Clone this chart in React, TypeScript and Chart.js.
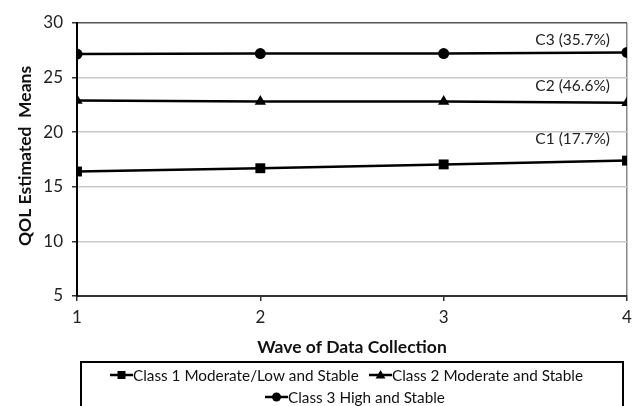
import React, { useEffect, useRef } from "react";
import { Chart, registerables } from "chart.js";

Chart.register(...registerables);

const waves = [1, 2, 3, 4];
const class1 = [16.4, 16.7, 17.05, 17.4];
const class2 = [22.9, 22.8, 22.8, 22.7];
const class3 = [27.15, 27.2, 27.2, 27.3];
const seriesLabels = [
  "Class 1 Moderate/Low and Stable",
  "Class 2 Moderate and Stable",
  "Class 3 High and Stable",
];
const annotations = ["C1 (17.7%)", "C2 (46.6%)", "C3 (35.7%)"];
const annotationValues = [19.4, 24.2, 28.4];
const yTicks = [5, 10, 15, 20, 25, 30];
const xTitle = "Wave of Data Collection";
const yTitle = "QOL Estimated  Means";

const FONT = "Lato, 'Liberation Sans', sans-serif";

function drawMarker(ctx: CanvasRenderingContext2D, style: string, x: number, y: number, r: number) {
  ctx.beginPath();
  if (style === "rect") {
    const s = r;
    ctx.rect(x - s, y - s, 2 * s, 2 * s);
  } else if (style === "triangle") {
    ctx.moveTo(x, y - r * 1.1);
    ctx.lineTo(x + r * 1.1, y + r * 0.75);
    ctx.lineTo(x - r * 1.1, y + r * 0.75);
    ctx.closePath();
  } else {
    ctx.arc(x, y, r, 0, Math.PI * 2);
  }
  ctx.fill();
}

const overlayPlugin = {
  id: "overlay",
  afterDraw(chart: any) {
    const ctx: CanvasRenderingContext2D = chart.ctx;
    const { chartArea } = chart;
    const xs = chart.scales.x;
    const ys = chart.scales.y;
    ctx.save();
    // annotations
    ctx.fillStyle = "#222";
    ctx.font = `15.5px ${FONT}`;
    ctx.textAlign = "right";
    ctx.textBaseline = "middle";
    annotations.forEach((t, i) => {
      ctx.fillText(t, xs.getPixelForValue(4) - 17, ys.getPixelForValue(annotationValues[i]));
    });
    // x title
    ctx.font = `bold 17.5px ${FONT}`;
    ctx.textAlign = "center";
    ctx.fillStyle = "#111";
    ctx.fillText(xTitle, (chartArea.left + chartArea.right) / 2, 347);
    // y title
    ctx.save();
    ctx.translate(25, 156);
    ctx.rotate(-Math.PI / 2);
    ctx.fillText(yTitle, 0, 0);
    ctx.restore();
    // legend box
    const bx = 81, by = 362, bw = 542, bh = 60;
    ctx.strokeStyle = "#000";
    ctx.lineWidth = 2;
    ctx.strokeRect(bx, by, bw, bh);
    ctx.font = `15.3px ${FONT}`;
    ctx.textAlign = "left";
    ctx.fillStyle = "#111";
    const styles = ["rect", "triangle", "circle"];
    const items = [
      { x: 110, y: 375 },
      { x: 369, y: 375 },
      { x: 265, y: 397 },
    ];
    items.forEach((it, i) => {
      ctx.strokeStyle = "#000";
      ctx.lineWidth = 2.5;
      ctx.beginPath();
      ctx.moveTo(it.x, it.y);
      ctx.lineTo(it.x + 23, it.y);
      ctx.stroke();
      ctx.fillStyle = "#000";
      drawMarker(ctx, styles[i], it.x + 11.5, it.y, i === 0 ? 4 : 4.5);
      ctx.fillStyle = "#111";
      ctx.fillText(seriesLabels[i], it.x + 23, it.y + 1);
    });
    ctx.restore();
  },
};

export default function App() {
  const ref = useRef<HTMLCanvasElement | null>(null);
  useEffect(() => {
    if (!ref.current) return;
    const mk = (label: string, data: number[], pointStyle: string, radius: number) => ({
      label,
      data: data.map((v, i) => ({ x: waves[i], y: v })),
      borderColor: "#000",
      backgroundColor: "#000",
      borderWidth: 2.5,
      pointStyle,
      pointRadius: radius,
      pointBorderWidth: 0,
      pointBackgroundColor: "#000",
      tension: 0,
    });
    const chart = new Chart(ref.current, {
      type: "line",
      data: {
        datasets: [
          mk(seriesLabels[0], class1, "rect", 7),
          mk(seriesLabels[1], class2, "triangle", 6.5),
          mk(seriesLabels[2], class3, "circle", 5.5),
        ],
      },
      options: {
        animation: false,
        responsive: false,
        maintainAspectRatio: false,
        devicePixelRatio: 1,
        layout: { padding: { top: 23, right: 11, left: 0, bottom: 0 } },
        plugins: { legend: { display: false }, tooltip: { enabled: false } },
        scales: {
          x: {
            type: "linear",
            min: 1,
            max: 4,
            afterBuildTicks: (s: any) => {
              s.ticks = waves.map((v) => ({ value: v }));
            },
            afterFit: (s: any) => {
              s.height = 110;
            },
            ticks: {
              font: { family: FONT, size: 17 },
              color: "#222",
              padding: 6,
              maxRotation: 0,
              callback: (v: any) => String(v),
            },
            grid: {
              color: (c: any) => (c.tick && c.tick.value === 4 ? "#888" : "rgba(0,0,0,0)"),
              lineWidth: 1.5,
              tickColor: "#333",
              tickLength: 5,
              drawTicks: true,
            },
            border: { color: "#333", width: 2 },
          },
          y: {
            min: 5,
            max: 30,
            afterBuildTicks: (s: any) => {
              s.ticks = yTicks.map((v) => ({ value: v }));
            },
            afterFit: (s: any) => {
              s.width = 77;
            },
            ticks: {
              font: { family: FONT, size: 17 },
              color: "#222",
              padding: 9,
            },
            grid: {
              color: (c: any) => (c.tick && c.tick.value === 30 ? "#555" : "#c8c8c8"),
              lineWidth: 1.5,
              tickColor: "#333",
              tickLength: 5,
            },
            border: { color: "#000", width: 2 },
          },
        },
      },
      plugins: [overlayPlugin],
    } as any);
    return () => chart.destroy();
  }, []);
  return (
    <div style={{ position: "fixed", left: 0, top: 0, width: 638, height: 406, background: "#fff" }}>
      <canvas ref={ref} width={638} height={406} style={{ width: 638, height: 406 }} />
    </div>
  );
}
